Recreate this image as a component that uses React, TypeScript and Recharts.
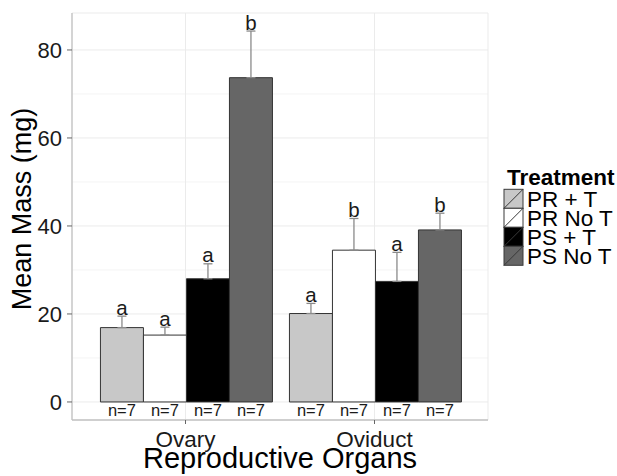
import React from 'react';
import {
  BarChart, Bar, XAxis, YAxis, CartesianGrid, ErrorBar, LabelList, Legend,
} from 'recharts';

// ---- data ----
const categories = ['Ovary', 'Oviduct'];
const seriesNames = ['PR + T', 'PR No T', 'PS + T', 'PS No T'];
const prT = [16.9, 20.1];
const prTErr = [2.6, 2.3];
const prNoT = [15.2, 34.5];
const prNoTErr = [1.8, 7.2];
const psT = [28.0, 27.4];
const psTErr = [3.4, 6.6];
const psNoT = [73.7, 39.1];
const psNoTErr = [10.6, 3.8];
const prTLetters = ['a', 'a'];
const prNoTLetters = ['a', 'b'];
const psTLetters = ['a', 'a'];
const psNoTLetters = ['b', 'b'];
const nLabels = ['n=7', 'n=7'];
const yTicks = [0, 20, 40, 60, 80];
const yMinorTicks = [10, 30, 50, 70];
const yDomain: [number, number] = [-4.1, 88.4];

const FONT = '"Liberation Sans", Arial, Helvetica, sans-serif';
const BORDER = '#c2c2c2';

const data = categories.map((c, i) => ({
  name: c,
  prT: prT[i], prTErr: [0, prTErr[i]],
  prNoT: prNoT[i], prNoTErr: [0, prNoTErr[i]],
  psT: psT[i], psTErr: [0, psTErr[i]],
  psNoT: psNoT[i], psNoTErr: [0, psNoTErr[i]],
}));

const series = [
  { key: 'prT', name: seriesNames[0], fill: '#c8c8c8', err: prTErr, letters: prTLetters },
  { key: 'prNoT', name: seriesNames[1], fill: '#ffffff', err: prNoTErr, letters: prNoTLetters },
  { key: 'psT', name: seriesNames[2], fill: '#000000', err: psTErr, letters: psTLetters },
  { key: 'psNoT', name: seriesNames[3], fill: '#666666', err: psNoTErr, letters: psNoTLetters },
];

const geom = (props: any) => {
  const vb = props.viewBox && props.viewBox.width !== undefined ? props.viewBox : props;
  return {
    x: Number(vb.x), y: Number(vb.y), width: Number(vb.width), height: Number(vb.height),
  };
};

const makeLetter = (letters: string[], errs: number[]) => (props: any) => {
  const { x, y, width, height } = geom(props);
  const idx = props.index ?? 0;
  const value = Number(props.value);
  const ppu = value ? Math.abs(height) / value : 0;
  const top = y - errs[idx] * ppu;
  return (
    <text key={`l${idx}`} x={x + width / 2} y={top - 1.5} textAnchor="middle"
      fontSize={20.5} fill="#1a1a1a" fontFamily={FONT}>{letters[idx]}</text>
  );
};

const makeN = () => (props: any) => {
  const { x, y, width, height } = geom(props);
  const idx = props.index ?? 0;
  return (
    <text key={`n${idx}`} x={x + width / 2} y={y + height + 14} textAnchor="middle"
      fontSize={16.5} fill="#1a1a1a" fontFamily={FONT}>{nLabels[idx]}</text>
  );
};

const LegendContent = (props: any) => {
  const payload = props.payload || [];
  return (
    <svg width={117} height={110} style={{ fontFamily: FONT, display: 'block' }}>
      <text x={7} y={20} fontSize={22.5} fontWeight="bold" fill="#000">Treatment</text>
      {payload.map((p: any, i: number) => {
        const y0 = 24.3 + i * 19;
        return (
          <g key={i}>
            <rect x={4} y={y0} width={19} height={19} fill={p.color} stroke="#3a3a3a" strokeWidth={1} />
            <line x1={4} y1={y0 + 19} x2={23} y2={y0} stroke="#3a3a3a" strokeWidth={1} />
            <text x={27} y={y0 + 17.4} fontSize={22.5} fill="#000">{p.value}</text>
          </g>
        );
      })}
    </svg>
  );
};

export default function App() {
  return (
    <div style={{ position: 'absolute', left: 0, top: 0, width: 617, height: 476, background: '#fff' }}>
      <BarChart
        width={617}
        height={476}
        data={data}
        margin={{ top: 13, right: 129, bottom: 0, left: 0 }}
        barCategoryGap="5%"
        barGap={0}
        style={{ fontFamily: FONT }}
      >
        <CartesianGrid horizontalValues={yMinorTicks} vertical={false} stroke="#f4f4f4" strokeWidth={1} />
        <CartesianGrid stroke="#ebebeb" strokeWidth={1} />
        <XAxis
          dataKey="name"
          height={56}
          padding={{ left: 19, right: 19 }}
          axisLine={{ stroke: BORDER, strokeWidth: 1.3 }}
          tickLine={{ stroke: '#666' }}
          tickSize={4}
          tickMargin={7}
          tick={{ fontSize: 22.5, fill: '#1a1a1a', fontFamily: FONT }}
          label={{ value: 'Reproductive Organs', position: 'insideBottom', offset: 8, fontSize: 29, fill: '#000', fontFamily: FONT }}
        />
        <XAxis xAxisId="top" dataKey="name" orientation="top" height={0} tick={false} tickLine={false}
          axisLine={{ stroke: BORDER, strokeWidth: 1.3 }} />
        <YAxis
          type="number"
          domain={yDomain}
          ticks={yTicks}
          allowDataOverflow
          width={72}
          axisLine={{ stroke: BORDER, strokeWidth: 1.3 }}
          tickLine={{ stroke: '#666' }}
          tickSize={5}
          tickMargin={5}
          tick={{ fontSize: 22, fill: '#1a1a1a', fontFamily: FONT }}
          label={{
            content: () => (
              <text x={31} y={209} transform="rotate(-90 31 209)" textAnchor="middle"
                fontSize={27} fill="#000" fontFamily={FONT}>Mean Mass (mg)</text>
            ),
          }}
        />
        <YAxis yAxisId="right" orientation="right" type="number" domain={yDomain} allowDataOverflow
          width={0} tick={false} tickLine={false} axisLine={{ stroke: BORDER, strokeWidth: 1.3 }} />
        <Legend
          layout="vertical"
          align="center"
          verticalAlign="middle"
          wrapperStyle={{ left: 500, top: 165, width: 117, height: 110 }}
          content={LegendContent}
        />
        {series.map((s) => (
          <Bar key={s.key} dataKey={s.key} name={s.name} fill={s.fill} stroke="#333333" strokeWidth={1}
            isAnimationActive={false}>
            <ErrorBar dataKey={`${s.key}Err`} direction="y" width={4.5} stroke="#8a8a8a" strokeWidth={1.3} />
            <LabelList dataKey={s.key} content={makeLetter(s.letters, s.err)} />
            <LabelList dataKey={s.key} content={makeN()} />
          </Bar>
        ))}
      </BarChart>
    </div>
  );
}
